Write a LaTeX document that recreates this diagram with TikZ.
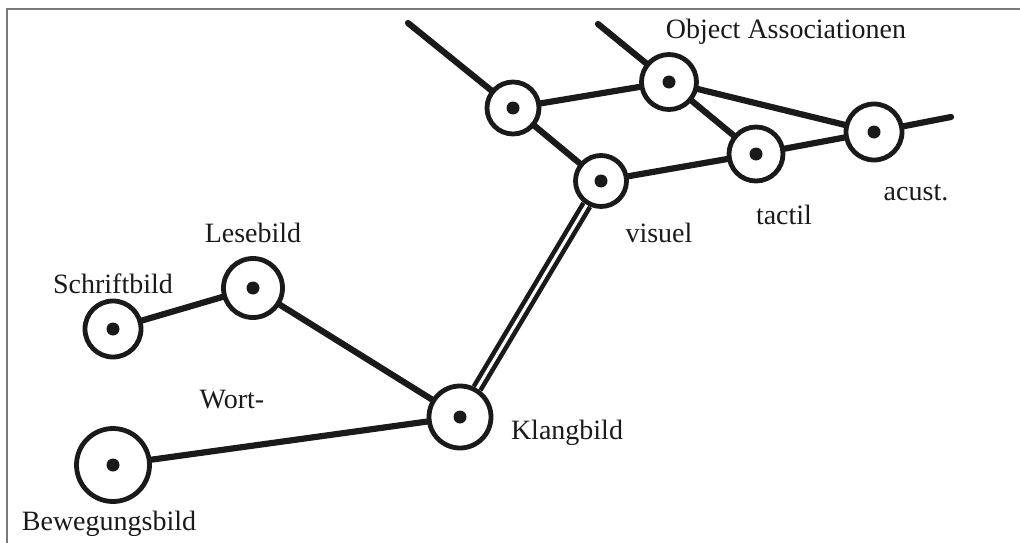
\documentclass[tikz,border=0pt]{standalone}
\usepackage{fontspec}
\setmainfont{Liberation Serif}
\usepackage{tikz}
\usetikzlibrary{positioning}
\usepackage{xcolor}
\definecolor{frameGray}{HTML}{7A7A7A}
\definecolor{inkBlack}{HTML}{1A1A1A}

\begin{document}
\begin{tikzpicture}[
    x=1pt, y=-1pt,
    centre/.style={
        circle,
        draw=inkBlack,
        line width=4.8pt,
        fill=white,
        inner sep=0pt,
        path picture={\fill[inkBlack] (path picture bounding box.center) circle (6.5pt);}
    },
    link/.style={
        line width=6.2pt,
        inkBlack,
        line cap=round
    },
    bond/.style={
        line width=4.6pt,
        inkBlack,
        double=white,
        double distance=3pt
    },
    caption/.style={
        font=\fontsize{28}{32}\selectfont,
        text=inkBlack,
        inner sep=0pt,
        anchor=base
    }
]

\useasboundingbox (0,0) rectangle (1020,543);

% Frame
\draw[frameGray, line width=1.5pt] (1020,9) -- (7,9) -- (7,543);

% Centres
\node[centre, minimum size=52pt] (assoc) at (513,108) {};
\node[centre, minimum size=55pt] (obj) at (669,82) {};
\node[centre, minimum size=51pt] (visuel) at (601,181) {};
\node[centre, minimum size=54pt] (tactil) at (756,154) {};
\node[centre, minimum size=56pt] (acust) at (874,132) {};
\node[centre, minimum size=59pt] (lese) at (253,288) {};
\node[centre, minimum size=56pt] (schrift) at (113,329) {};
\node[centre, minimum size=73pt] (bewegung) at (113,465) {};
\node[centre, minimum size=62pt] (klang) at (460,417) {};

% Loose ends
\coordinate (assocEnd) at (408,23);
\coordinate (objEnd) at (598,24);
\coordinate (acustEnd) at (951,117);

% Object associations
\draw[link] (assocEnd) -- (assoc);
\draw[link] (objEnd) -- (obj);
\draw[link] (acust) -- (acustEnd);
\draw[link] (assoc) -- (obj);
\draw[link] (assoc) -- (visuel);
\draw[link] (obj) -- (acust);
\draw[link] (obj) -- (tactil);
\draw[link] (visuel) -- (tactil);
\draw[link] (tactil) -- (acust);

% Word associations
\draw[link] (schrift) -- (lese);
\draw[link] (lese) -- (klang);
\draw[link] (bewegung) -- (klang);
\draw[bond] (visuel) -- (klang);

% Labels
\node[caption] (objLabel) at (786,39) {Object Associationen};
\node[caption] (visuelLabel) at (659,242) {visuel};
\node[caption] (tactilLabel) at (784,224) {tactil};
\node[caption] (acustLabel) at (916,200) {acust.};
\node[caption] (leseLabel) at (253,242) {Lesebild};
\node[caption] (schriftLabel) at (113,293) {Schriftbild};
\node[caption] (wortLabel) at (232,408) {Wort-};
\node[caption] (bewegungLabel) at (109,530) {Bewegungsbild};
\node[caption] (klangLabel) at (567,439) {Klangbild};

\end{tikzpicture}
\end{document}
